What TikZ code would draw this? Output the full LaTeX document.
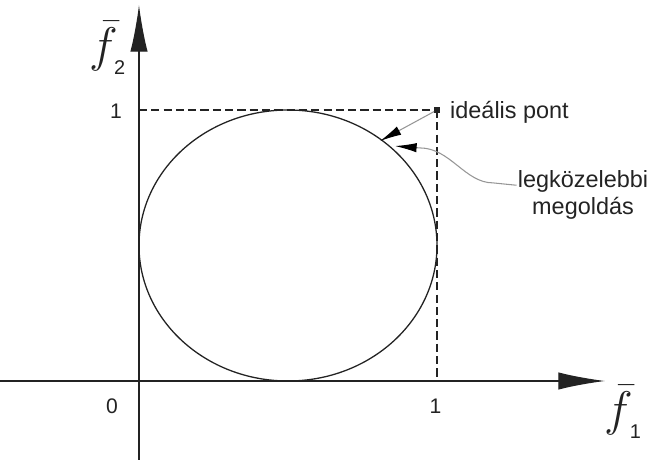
\documentclass[tikz,border=0pt]{standalone}
\usepackage{fontspec}
\setmainfont{Liberation Sans}
\usepackage{amsmath}
\usetikzlibrary{arrows.meta, positioning}
\definecolor{axisgray}{RGB}{35, 35, 35}
\definecolor{leadgray}{RGB}{150, 150, 150}
\newcommand{\fbarlbl}[1]{\scalebox{2}{$\bar{f}$}\kern-3pt\raisebox{-11pt}{\fontsize{17}{17}\selectfont #1}}
\tikzset{
  axisline/.style={line width=1.1pt, axisgray, -{Latex[length=1.4cm, width=0.52cm]}},
  guide/.style={line width=1pt, axisgray, dash pattern=on 7pt off 3.5pt},
  leader/.style={line width=0.9pt, leadgray, -{Latex[length=6.5mm, width=2.8mm, color=black]}},
  lbl/.style={font=\fontsize{20}{24}\selectfont, text=axisgray, inner sep=0pt},
  ticklbl/.style={font=\fontsize{18}{20}\selectfont, text=axisgray, inner sep=0pt},
  axislbl/.style={font=\fontsize{20}{24}\selectfont, text=axisgray, inner sep=0pt}
}

\begin{document}
\begin{tikzpicture}[x=8.94cm, y=8.13cm]
  \useasboundingbox (-0.4664,-0.2989) rectangle (1.7215,1.4059);

  % Axes
  \coordinate (xstart) at (-0.4664,0);
  \coordinate (xend) at (1.5638,0);
  \coordinate (ystart) at (0,-0.2915);
  \coordinate (yend) at (0,1.3875);
  \draw[axisline] (xstart) -- (xend);
  \draw[axisline] (ystart) -- (yend);
  \node[axislbl] (f1lbl) at (1.624,-0.114) {\fbarlbl{1}};
  \node[axislbl] (f2lbl) at (-0.107,1.229) {\fbarlbl{2}};

  % Tick labels
  \foreach \x/\y/\t/\nm in {-0.0906/-0.0923/0/tzero, 0.995/-0.092/1/txone, -0.077/0.996/1/tyone} {
    \node[ticklbl] (\nm) at (\x,\y) {\t};
  }

  % Ideal point and dashed guides
  \coordinate (xone) at (1,0);
  \coordinate (yone) at (0,1);
  \node[fill=axisgray, minimum size=4.5pt, inner sep=0pt] (ideal) at (1,1) {};
  \draw[guide] (yone) -- (ideal.center);
  \draw[guide] (ideal.center) -- (xone);

  % Feasible set
  \draw[line width=1.1pt, axisgray] (0.5,0.5) ellipse [x radius=4.47cm, y radius=4.065cm];

  % Labels with leaders
  \node[lbl, anchor=west] (idlbl) at (1.0436,0.99) {ideális pont};
  \node[lbl] (bestA) at (1.49,0.736) {legközelebbi};
  \node[lbl, below=4pt of bestA] (bestB) {megoldás};

  \coordinate (nearA) at (0.8087,0.8856);
  \coordinate (nearB) at (0.859,0.867);
  \draw[leader] (ideal) -- (nearA);
  \draw[leader] ([xshift=-1pt, yshift=2pt]bestA.base west) -- (1.188,0.731)
    .. controls (1.094,0.731) and (1.044,0.860) .. (0.943,0.860) -- (nearB);
\end{tikzpicture}
\end{document}
